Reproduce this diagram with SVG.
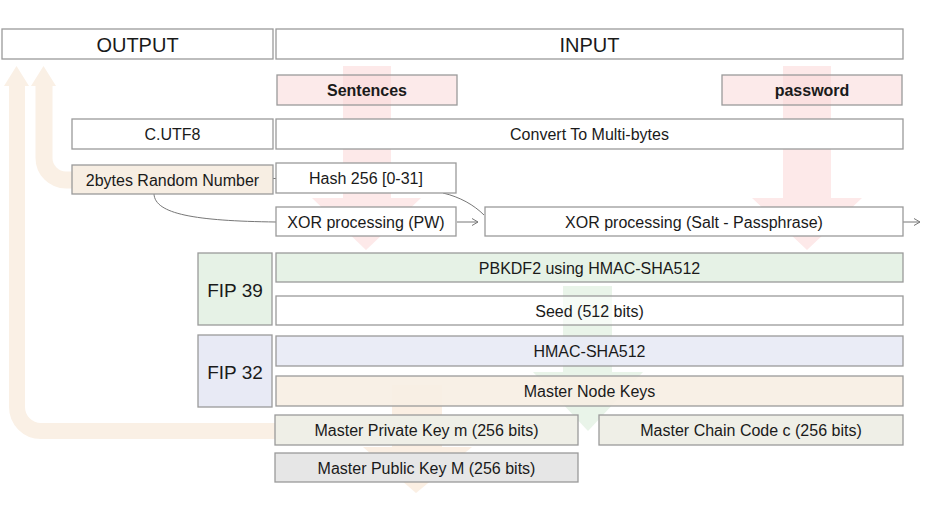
<svg xmlns="http://www.w3.org/2000/svg" width="938" height="522" viewBox="0 0 938 522">
<style>
.b{stroke:#9a9a9a;stroke-width:1.3}
.t{font-family:"Liberation Sans",Arial,sans-serif;font-size:16px;fill:#1a1a1a;text-anchor:middle;dominant-baseline:central}
.big{font-size:20px}
.bold{font-weight:bold}
.c{fill:none;stroke:#777;stroke-width:1}
</style>
<defs>
<marker id="ah" markerWidth="10" markerHeight="10" refX="7" refY="5" orient="auto" markerUnits="userSpaceOnUse">
<path d="M1,1.5 L7,5 L1,8.5" fill="none" stroke="#777" stroke-width="1"/>
</marker>
</defs>
<g id="bg-arrows">
<path d="M275,431 H41 A24,24 0 0 1 17,407 V84" fill="none" stroke="#faf0e5" stroke-width="16"/>
<polygon points="4,86 16.5,66 29,86" fill="#faf0e5"/>
<path d="M72,180 H66 A22,22 0 0 1 44,158 V84" fill="none" stroke="#faf0e5" stroke-width="17"/>
<polygon points="31,86 43.5,66 56,86" fill="#faf0e5"/>
<polygon points="343,66 391,66 391,198 421,198 366,250 312,198 343,198" fill="#fde9e9"/>
<polygon points="783,66 831,66 831,198 862,198 807,250 752,198 783,198" fill="#fde9e9"/>
<polygon points="563,286 612,286 612,372 643,372 588,431 533,372 563,372" fill="#e9f4e9"/>
<polygon points="392,385 442,385 442,447 472,447 416,493 363,447 392,447" fill="#fbefe3"/>
</g>
<g id="connectors">
<line class="c" x1="273" y1="178.5" x2="276" y2="178.5"/>
<path class="c" d="M154,194 C155,214 195,221 276,222"/>
<path class="c" d="M443,193 C460,197 474,205 484,215"/>
<line class="c" x1="457" y1="222" x2="478" y2="222" marker-end="url(#ah)"/>
<line class="c" x1="903" y1="222" x2="920" y2="222" marker-end="url(#ah)"/>
</g>
<g id="output"><rect class="b" x="2" y="29" width="271" height="30" fill="#fff"/><text class="t big" x="137.5" y="44.5">OUTPUT</text></g>
<g id="input"><rect class="b" x="276" y="29" width="627" height="30" fill="#fff"/><text class="t big" x="589.5" y="44.5">INPUT</text></g>
<g id="sentences"><rect class="b" x="277" y="75" width="180" height="30" fill="#fad8d8" fill-opacity="0.55"/><text class="t bold" x="367" y="90">Sentences</text></g>
<g id="password"><rect class="b" x="722" y="75" width="180" height="30" fill="#fad8d8" fill-opacity="0.55"/><text class="t bold" x="812" y="90">password</text></g>
<g id="cutf8"><rect class="b" x="72" y="119" width="201" height="30" fill="#fff"/><text class="t" x="172.5" y="134">C.UTF8</text></g>
<g id="convert"><rect class="b" x="276" y="119" width="627" height="30" fill="#fff"/><text class="t" x="589.5" y="134">Convert To Multi-bytes</text></g>
<g id="random"><rect class="b" x="72" y="165" width="201" height="29" fill="#f7eee3"/><text class="t" x="172.5" y="180">2bytes Random Number</text></g>
<g id="hash"><rect class="b" x="276" y="163" width="180" height="30" fill="#fff"/><text class="t" x="366" y="178">Hash 256 [0-31]</text></g>
<g id="xorpw"><rect class="b" x="276" y="207" width="180" height="29" fill="#fff"/><text class="t" x="366" y="222">XOR processing (PW)</text></g>
<g id="xorsalt"><rect class="b" x="485" y="207" width="418" height="29" fill="#fff"/><text class="t" x="694" y="222">XOR processing (Salt - Passphrase)</text></g>
<g id="fip39"><rect class="b" x="198" y="253" width="74" height="72" fill="#e6f2e6"/><text class="t" style="font-size:19px" x="235" y="290">FIP 39</text></g>
<g id="pbkdf2"><rect class="b" x="276" y="253" width="627" height="29" fill="#e6f2e6"/><text class="t" x="589.5" y="268">PBKDF2 using HMAC-SHA512</text></g>
<g id="seed"><rect class="b" x="276" y="296" width="627" height="29" fill="#fff" fill-opacity="0.6"/><text class="t" x="589.5" y="311">Seed (512 bits)</text></g>
<g id="fip32"><rect class="b" x="198" y="335" width="74" height="72" fill="#e8eaf5"/><text class="t" style="font-size:19px" x="235" y="372">FIP 32</text></g>
<g id="hmac"><rect class="b" x="276" y="336" width="627" height="30" fill="#e8eaf5" fill-opacity="0.9"/><text class="t" x="589.5" y="351">HMAC-SHA512</text></g>
<g id="masternode"><rect class="b" x="276" y="376" width="627" height="30" fill="#f7eee3" fill-opacity="0.9"/><text class="t" x="589.5" y="391">Master Node Keys</text></g>
<g id="privkey"><rect class="b" x="275" y="415" width="303" height="30" fill="#efefe7"/><text class="t" x="426.5" y="430">Master Private Key m (256 bits)</text></g>
<g id="chaincode"><rect class="b" x="599" y="415" width="304" height="30" fill="#efefe7"/><text class="t" x="751" y="430">Master Chain Code c (256 bits)</text></g>
<g id="pubkey"><rect class="b" x="275" y="453" width="303" height="29" fill="#e6e6e6"/><text class="t" x="426.5" y="468">Master Public Key M (256 bits)</text></g>
</svg>
